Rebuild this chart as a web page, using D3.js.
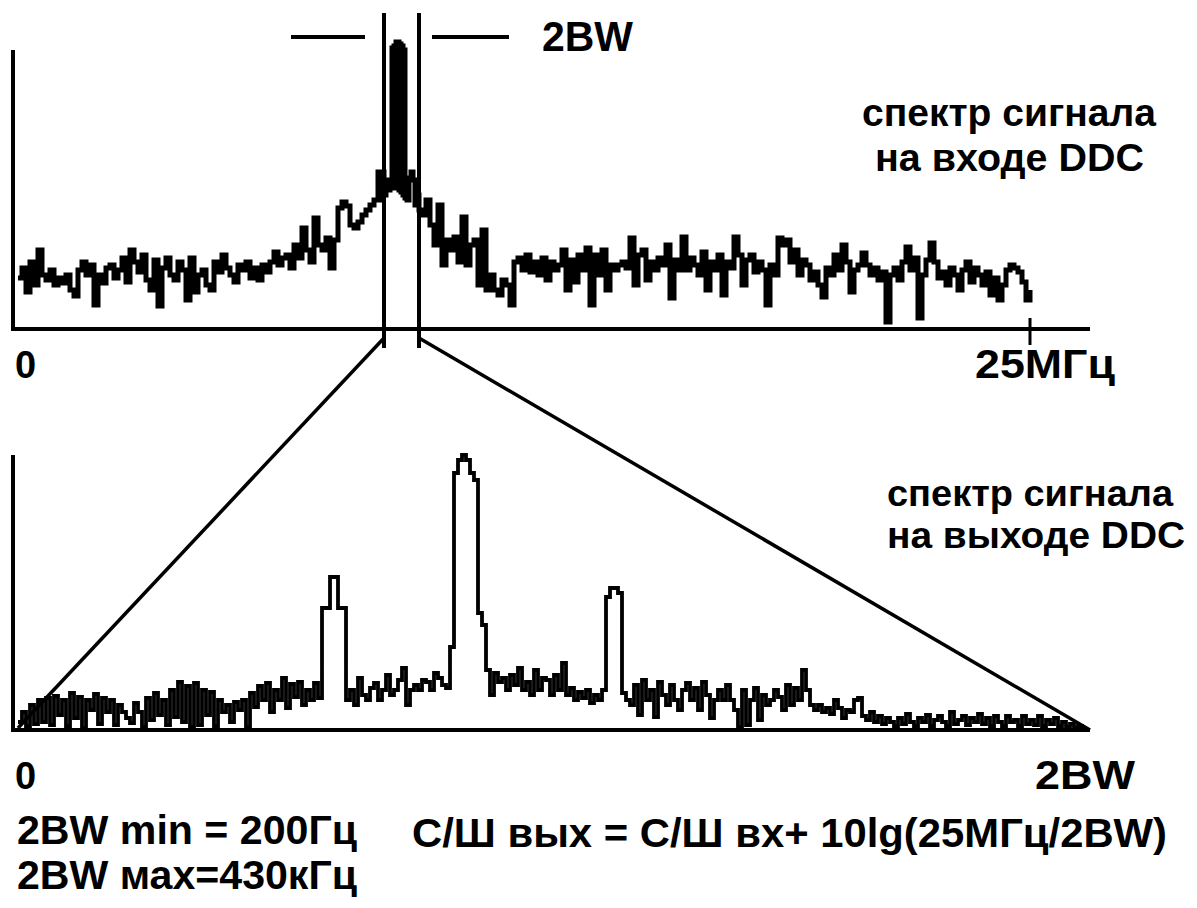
<!DOCTYPE html>
<html><head><meta charset="utf-8">
<script src="https://cdn.jsdelivr.net/npm/d3@7"></script>
<style>
body{margin:0;background:#fff}
svg{display:block}
text{font-family:"Liberation Sans Narrow","Arial Narrow","Liberation Sans",Arial,sans-serif;font-weight:bold;fill:#000}
</style>
</head><body>
<svg id="c" width="1197" height="908"></svg>
<script>
// ---- data (frequency bins, amplitude in arbitrary units) ----
// top spectrum: 25 MHz span = 1017 bins
const topLeftStart = 5, topStep = 4;
const topLeftAmp = [51,61,37,67,44,79,54,49,59,44,
 51,46,54,39,33,59,67,54,64,24,
 54,46,61,64,51,59,71,47,79,67,
 57,74,49,39,69,23,61,71,54,49,
 67,59,29,71,37,54,59,44,39,67,
 57,74,61,54,47,64,59,67,51,61,
 49,64,57,67,77,64,71,74,61,84,
 71,101,79,67,111,84,79,91,61,89,
 121,127,123,104,101,107,114,119,124,129,
 157];
const topCenter = [[367,129],[369,157],[371,134],[373,149],[375,139],[377,144],
 [379,281],[380,141],[381,283],[382,143],[383,287],[384,141],[385,287],[386,139],
 [387,285],[388,137],[389,283],[390,134],[391,279],[392,131],[394,129],[396,151],
 [398,157],[400,149],[402,124],[404,134],[406,119]];
const topRightStart = 409;
const topRightAmp = [114,129,104,84,124,64,89,79,92,67,
 112,64,84,89,44,99,39,54,39,34,
 49,44,24,67,71,59,74,57,67,54,
 71,49,67,59,64,79,39,69,47,74,
 59,81,24,74,54,79,39,64,59,64,
 67,61,91,44,74,79,49,67,59,71,
 64,84,31,69,59,92,59,71,64,54,
 77,39,67,59,74,34,67,61,92,74,
 44,69,74,57,67,59,24,64,54,91,
 84,89,67,79,54,69,64,49,57,44,
 32,61,54,74,59,84,67,37,59,64,
 76,64,54,61,49,57,7,54,61,49,
 67,82,59,71,11,54,69,86,67,51,
 57,44,61,54,39,59,67,47,61,54,
 44,57,34,51,29,44,59,64,61,57,
 47,29,39];
// bottom spectrum: 2BW span = 1072 bins
const botStep = 4;
const bottomAmp = [8,18,4,25,6,30,8,32,5,34,
 15,30,4,37,12,33,2,30,20,36,
 6,32,18,30,5,25,18,12,7,27,
 18,3,32,10,37,15,30,5,40,13,
 48,8,44,3,47,5,40,15,38,4,
 30,18,25,8,28,20,30,3,37,23,
 44,30,47,18,40,30,52,22,46,33,
 48,25,40,30,47,32,122,122,153,153,
 122,122,30,40,25,52,35,30,42,47,
 30,40,55,35,40,50,62,25,40,45,
 40,50,48,40,57,52,45,42,83,257,
 270,275,270,257,250,117,105,60,35,57,
 48,52,40,55,45,62,40,48,35,60,
 40,52,50,35,55,40,67,35,42,30,
 38,32,40,27,35,30,40,133,142,142,
 137,37,30,25,45,15,50,30,40,13,
 48,35,25,45,30,20,40,47,30,42,
 20,48,35,12,30,40,30,45,30,20,
 3,40,5,30,42,10,35,25,30,40,
 33,20,45,25,42,30,60,40,25,20,
 25,18,22,16,30,22,12,20,18,30,
 32,14,10,18,8,14,6,12,8,4,
 12,6,16,8,4,12,8,15,4,10,
 14,8,4,18,6,10,14,5,12,8,
 16,6,12,4,14,8,4,14,8,10,
 4,14,6,10,5,14,4,10,6,12,
 4,8,3,6,2,4,1,0];
const bandBins = [371, 406];          // 2BW window inside the 25 MHz span
const topTickBins = [0, 1017];
const topTickLabels = ["0", "25МГц"];
const botTickLabels = ["0", "2BW"];
const inLabel = ["спектр сигнала", "на входе DDC"];
const outLabel = ["спектр сигнала", "на выходе DDC"];
const bwLabel = "2BW";
const notes = ["2BW min = 200Гц", "2BW мах=430кГц"];
const formula = "С/Ш вых = С/Ш вх+ 10lg(25МГц/2BW)";

// ---- scales ----
const svg = d3.select("#c");
const xTop = d3.scaleLinear().domain([0, 1017]).range([13, 1030]);
const yTop = d3.scaleLinear().domain([0, 290]).range([329, 39]);
const xBot = d3.scaleLinear().domain([0, 1072]).range([18, 1090]);
const yBot = d3.scaleLinear().domain([0, 290]).range([730, 440]);

const topData = [
  ...topLeftAmp.map((a, i) => [topLeftStart + i * topStep, a]),
  ...topCenter,
  ...topRightAmp.map((a, i) => [topRightStart + i * topStep, a])
];
const botData = bottomAmp.map((a, i) => [i * botStep, a]);

const line = (sx, sy) => d3.line().x(d => sx(d[0])).y(d => sy(d[1])).curve(d3.curveStepAfter);

function seg(x1, y1, x2, y2, w) {
  svg.append("line").attr("x1", x1).attr("y1", y1).attr("x2", x2).attr("y2", y2)
    .attr("stroke", "#000").attr("stroke-width", w);
}
function txt(x, y, s, size, len) {
  const t = svg.append("text").attr("x", x).attr("y", y).attr("font-size", size).text(s);
  if (len) t.attr("textLength", len).attr("lengthAdjust", "spacingAndGlyphs");
  return t;
}

// ---- top panel ----
seg(xTop(0), yTop(279), xTop(0), yTop(-2), 4);
seg(xTop(-2), yTop(0), xTop(1077), yTop(0), 4);
seg(xTop(topTickBins[1]), yTop(11), xTop(topTickBins[1]), yTop(-16), 3);
svg.append("path").datum(topData).attr("d", line(xTop, yTop))
  .attr("fill", "none").attr("stroke", "#000").attr("stroke-width", 5)
  .attr("stroke-linejoin", "miter");

// 2BW window markers
bandBins.forEach(b => seg(xTop(b), yTop(316), xTop(b), yTop(-19), 4));
seg(xTop(278), yTop(292), xTop(352), yTop(292), 4);
seg(xTop(419), yTop(292), xTop(496), yTop(292), 4);
txt(xTop(529), 51, bwLabel, 42, 91);

txt(xTop(topTickBins[0]) + 2, 378, topTickLabels[0], 38);
txt(975, 378, topTickLabels[1], 40, 140);
txt(862, 126, inLabel[0], 38, 294);
txt(875, 171, inLabel[1], 38, 269);

// ---- bottom panel ----
seg(xTop(0), yBot(275), xTop(0), yBot(-2), 4);
seg(xTop(-2), yBot(0), xBot(1072), yBot(0), 4);
svg.append("path").datum(botData).attr("d", line(xBot, yBot))
  .attr("fill", "none").attr("stroke", "#000").attr("stroke-width", 3.8);

// zoom lines
seg(xTop(bandBins[0]), yTop(-9), xBot(0), yBot(2), 3.5);
seg(xTop(bandBins[1]), yTop(-9), xBot(1072), yBot(0), 3.5);

txt(xTop(0) + 2, 789, botTickLabels[0], 38);
txt(1035, 789, botTickLabels[1], 40, 100);
txt(887, 506, outLabel[0], 36, 286);
txt(887, 548, outLabel[1], 36, 298);

// ---- notes ----
txt(17, 844, notes[0], 40, 340);
txt(17, 889, notes[1], 40, 340);
txt(412, 847, formula, 40, 755);
</script>
</body></html>
